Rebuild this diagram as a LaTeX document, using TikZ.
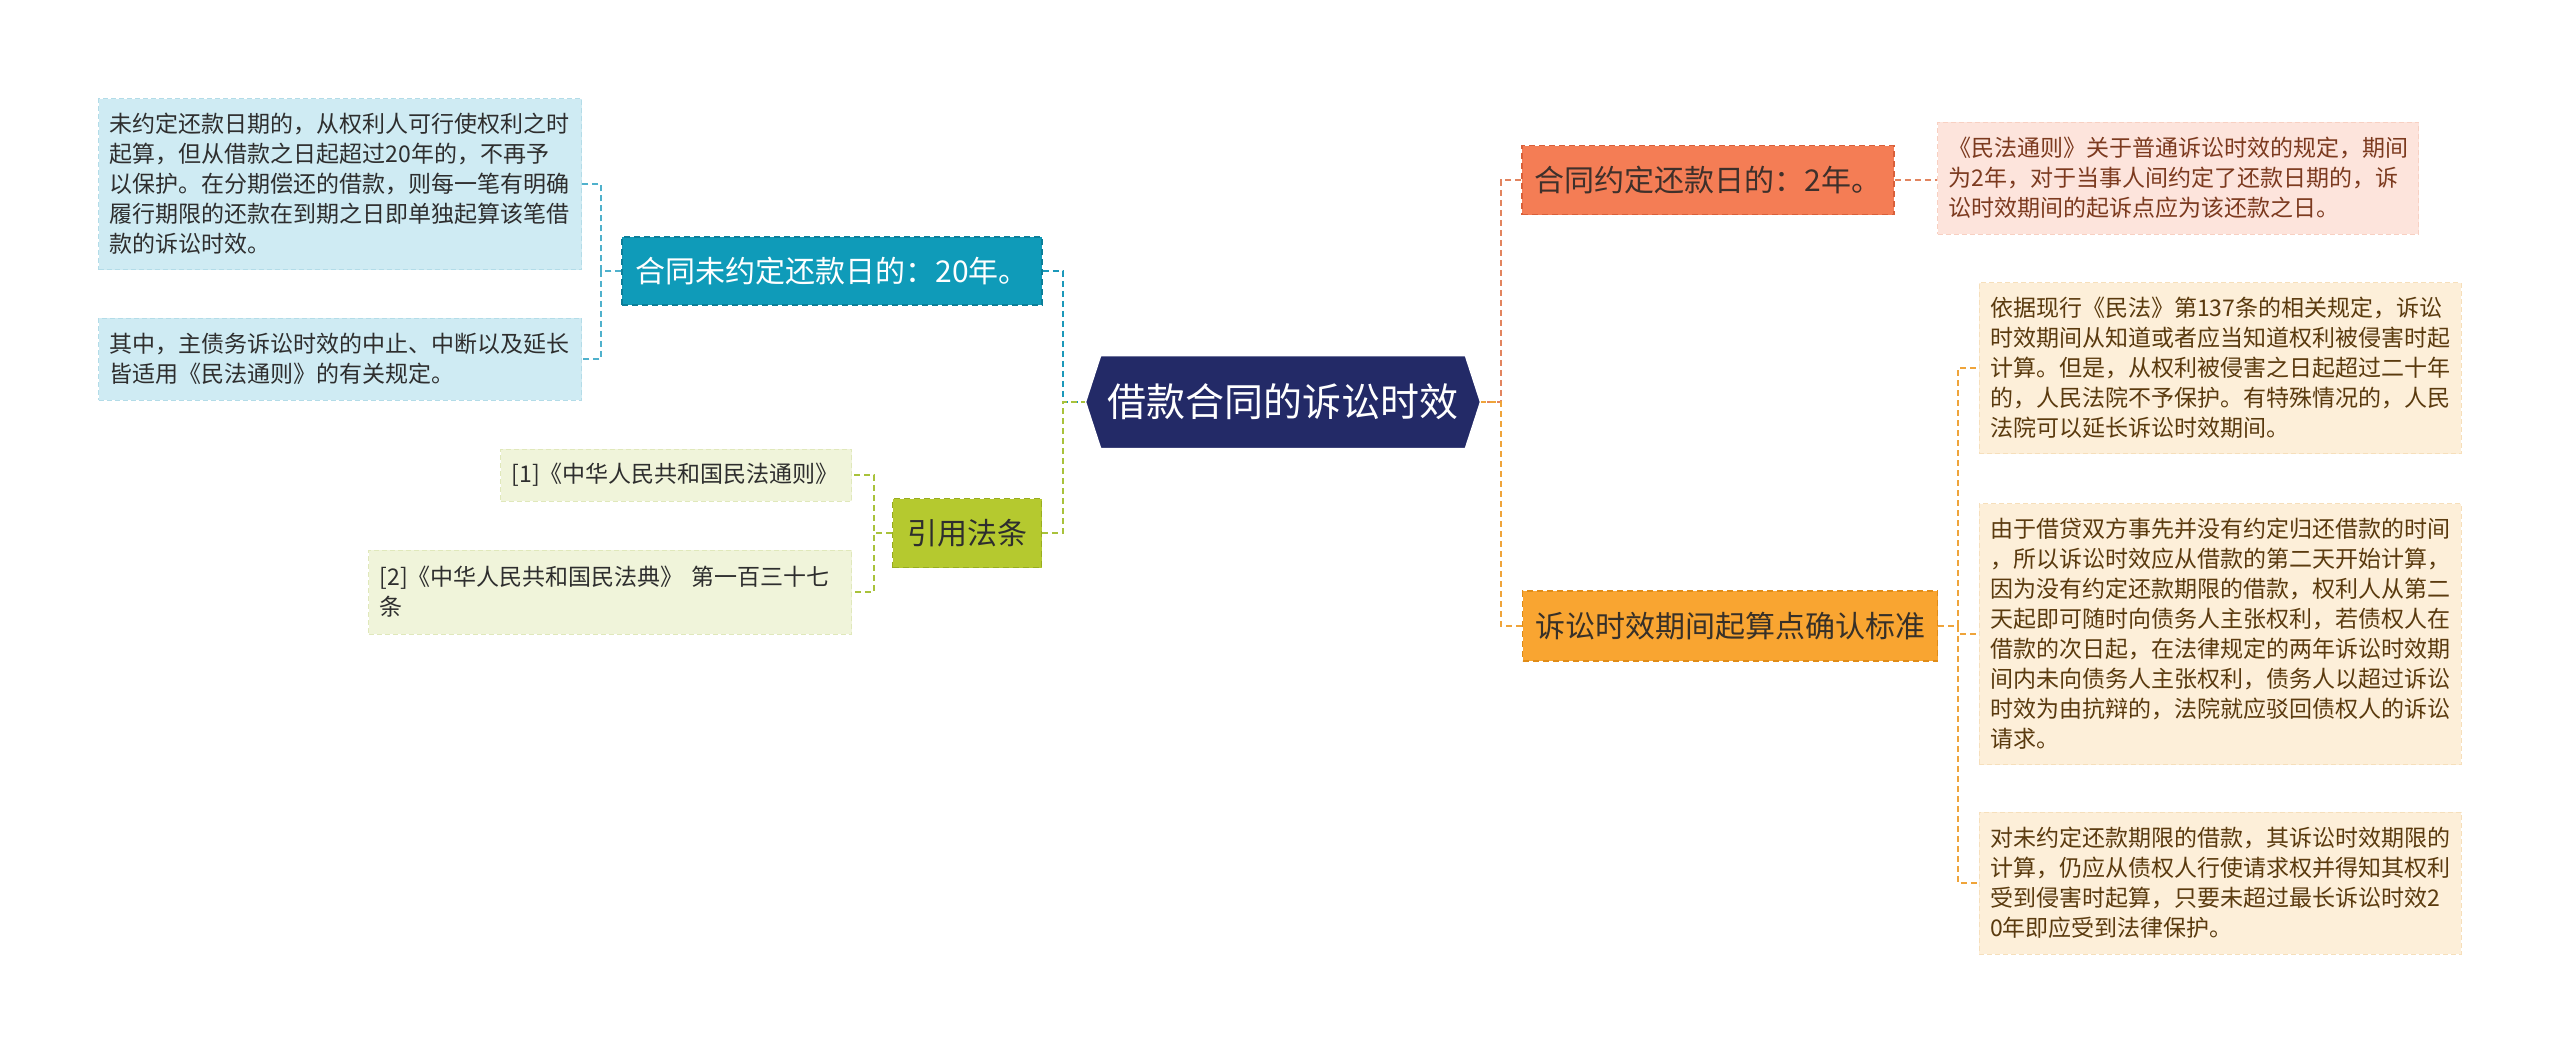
\documentclass[tikz,border=0pt]{standalone}
\usepackage{fontspec}
\setmainfont{Noto Sans CJK SC}
\usetikzlibrary{shapes.symbols}
\definecolor{tealfill}{HTML}{0F9BB9}
\definecolor{tealedge}{HTML}{0C7F99}
\definecolor{tealleaf}{HTML}{CFEBF3}
\definecolor{tealleafedge}{HTML}{B3DCE8}
\definecolor{tealline}{HTML}{1B98BA}
\definecolor{tealline2}{HTML}{4FB1CC}
\definecolor{rootfill}{HTML}{232A67}
\definecolor{greenfill}{HTML}{B5C92F}
\definecolor{greenedge}{HTML}{98AD1E}
\definecolor{greenleaf}{HTML}{F0F4DA}
\definecolor{greenleafedge}{HTML}{E0E8BB}
\definecolor{greenline}{HTML}{A9C23B}
\definecolor{redfill}{HTML}{F47D55}
\definecolor{rededge}{HTML}{D9603A}
\definecolor{redleaf}{HTML}{FDE4DC}
\definecolor{redleafedge}{HTML}{F8D0C2}
\definecolor{redline}{HTML}{E2845F}
\definecolor{redtext}{HTML}{7C3A1F}
\definecolor{orfill}{HTML}{F9A531}
\definecolor{oredge}{HTML}{E08C18}
\definecolor{orleaf}{HTML}{FDEFD9}
\definecolor{orleafedge}{HTML}{F6DFBB}
\definecolor{orline}{HTML}{EFA43A}
\definecolor{ortext}{HTML}{5A3A0E}
\definecolor{darktext}{HTML}{2E2E2E}
\begin{document}
\begin{tikzpicture}[x=1pt,y=-1pt,
  leaf/.style={rectangle, align=left, inner xsep=11pt, inner ysep=0pt,
    font=\fontsize{23}{30}\selectfont, dash pattern=on 5pt off 3pt, line width=1pt},
  topic/.style={rectangle, align=center, inner sep=0pt,
    dash pattern=on 6pt off 4pt, line width=1.5pt, font=\fontsize{30}{36}\selectfont},
  conn/.style={dash pattern=on 6pt off 4pt, line width=2.2pt},
  subconn/.style={dash pattern=on 6pt off 4pt, line width=1.6pt},
  ]
\useasboundingbox (0,0) rectangle (2560,1053);
\fill[white] (0,0) rectangle (2560,1053);

% root
\node[signal, signal to=west and east, signal pointer angle=144,
  fill=rootfill, draw=white, line width=1.5pt, text=white,
  minimum width=395pt, minimum height=93pt, inner sep=0pt,
  font=\fontsize{39}{45}\selectfont] (root) at (1283,402) {借款合同的诉讼时效};

% left topics
\node[topic, fill=tealfill, draw=tealedge, text=white,
  minimum width=420pt, minimum height=68pt] (t1) at (832,271) {合同未约定还款日的：20年。};
\node[topic, fill=greenfill, draw=greenedge, text=darktext,
  minimum width=149pt, minimum height=69pt] (t2) at (967,533) {引用法条};

% right topics
\node[topic, fill=redfill, draw=rededge, text=darktext!80!redtext,
  minimum width=372pt, minimum height=69pt] (r1) at (1708,180) {合同约定还款日的：2年。};
\node[topic, fill=orfill, draw=oredge, text=darktext!80!ortext,
  minimum width=415pt, minimum height=70pt] (r2) at (1730,626) {诉讼时效期间起算点确认标准};

% left leaves
\node[leaf, fill=tealleaf, draw=tealleafedge, text=darktext,
  text width=461pt, minimum height=171pt] (l1) at (340,184)
  {未约定还款日期的，从权利人可行使权利之时\\起算，但从借款之日起超过20年的，不再予\\以保护。在分期偿还的借款，则每一笔有明确\\履行期限的还款在到期之日即单独起算该笔借\\款的诉讼时效。};
\node[leaf, fill=tealleaf, draw=tealleafedge, text=darktext,
  text width=461pt, minimum height=82pt] (l2) at (340,359)
  {其中，主债务诉讼时效的中止、中断以及延长\\皆适用《民法通则》的有关规定。};

\node[leaf, fill=greenleaf, draw=greenleafedge, text=darktext,
  text width=329pt, minimum height=52pt] (g1) at (676,475)
  {[1]《中华人民共和国民法通则》};
\node[leaf, fill=greenleaf, draw=greenleafedge, text=darktext,
  text width=461pt, minimum height=84pt] (g2) at (610,592)
  {[2]《中华人民共和国民法典》 第一百三十七\\条};

% right leaves
\node[leaf, fill=redleaf, draw=redleafedge, text=redtext,
  text width=459pt, minimum height=112pt] (rl1) at (2178,178)
  {《民法通则》关于普通诉讼时效的规定，期间\\为2年，对于当事人间约定了还款日期的，诉\\讼时效期间的起诉点应为该还款之日。};

\node[leaf, fill=orleaf, draw=orleafedge, text=ortext,
  text width=460pt, minimum height=171pt] (ol1) at (2220,368)
  {依据现行《民法》第137条的相关规定，诉讼\\时效期间从知道或者应当知道权利被侵害时起\\计算。但是，从权利被侵害之日起超过二十年\\的，人民法院不予保护。有特殊情况的，人民\\法院可以延长诉讼时效期间。};
\node[leaf, fill=orleaf, draw=orleafedge, text=ortext,
  text width=460pt, minimum height=261pt] (ol2) at (2220,634)
  {由于借贷双方事先并没有约定归还借款的时间\\，所以诉讼时效应从借款的第二天开始计算，\\因为没有约定还款期限的借款，权利人从第二\\天起即可随时向债务人主张权利，若债权人在\\借款的次日起，在法律规定的两年诉讼时效期\\间内未向债务人主张权利，债务人以超过诉讼\\时效为由抗辩的，法院就应驳回债权人的诉讼\\请求。};
\node[leaf, fill=orleaf, draw=orleafedge, text=ortext,
  text width=460pt, minimum height=142pt] (ol3) at (2220,883)
  {对未约定还款期限的借款，其诉讼时效期限的\\计算，仍应从债权人行使请求权并得知其权利\\受到侵害时起算，只要未超过最长诉讼时效2\\0年即应受到法律保护。};

% buses
\coordinate (lbus) at (1063,0);
\coordinate (rbus) at (1501,0);
\coordinate (l1bus) at (601,0);
\coordinate (g1bus) at (874,0);
\coordinate (o1bus) at (1958,0);

% root connectors
\draw[conn, tealline] (t1.east) -| (lbus |- root.west) -- (root.west);
\draw[conn, greenline] (t2.east) -| (lbus |- root.west) -- (root.west);
\draw[conn, redline] (r1.west) -| (rbus |- root.east) -- (root.east);
\draw[conn, orline] (r2.west) -| (rbus |- root.east) -- (root.east);

% topic to leaf connectors
\draw[subconn, tealline2] (t1.west) -| (l1bus |- l1.east) -- (l1.east);
\draw[subconn, tealline2] (t1.west) -| (l1bus |- l2.east) -- (l2.east);
\draw[subconn, greenline] (t2.west) -| (g1bus |- g1.east) -- (g1.east);
\draw[subconn, greenline] (t2.west) -| (g1bus |- g2.east) -- (g2.east);
\draw[subconn, redline] (r1.east) -- (r1.east -| rl1.west);
\draw[subconn, orline] (r2.east) -| (o1bus |- ol1.west) -- (ol1.west);
\draw[subconn, orline] (r2.east) -| (o1bus |- ol2.west) -- (ol2.west);
\draw[subconn, orline] (r2.east) -| (o1bus |- ol3.west) -- (ol3.west);
\end{tikzpicture}
\end{document}
